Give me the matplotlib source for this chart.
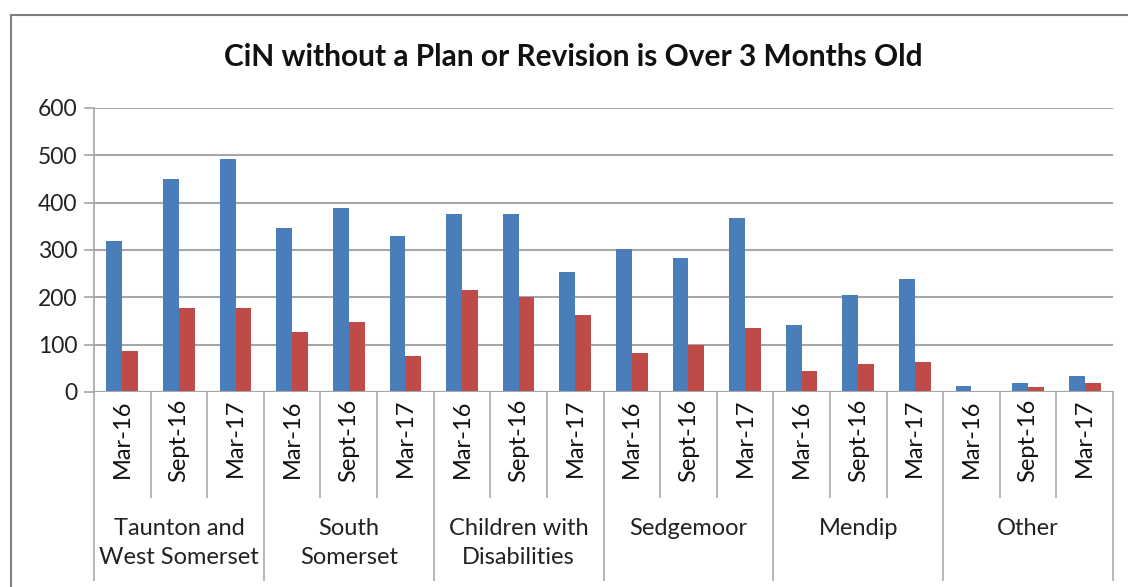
import matplotlib.pyplot as plt
from matplotlib.lines import Line2D

# data
groups = ["Taunton and\nWest Somerset", "South\nSomerset", "Children with\nDisabilities",
          "Sedgemoor", "Mendip", "Other"]
periods = ["Mar-16", "Sept-16", "Mar-17"]
blue_vals = [320, 449, 492, 346, 389, 329, 375, 375, 253,
             302, 283, 367, 142, 204, 239, 12, 20, 33]
red_vals = [87, 177, 177, 126, 148, 77, 215, 201, 163,
            82, 100, 136, 44, 60, 63, 3, 10, 20]

plt.rcParams['font.family'] = ['Lato', 'DejaVu Sans']

W, H = 1128, 587
fig = plt.figure(figsize=(W / 100, H / 100), dpi=100)

def px(x0, y0, x1, y1):
    return [x0 / W, 1 - y1 / H, (x1 - x0) / W, (y1 - y0) / H]

ax = fig.add_axes(px(94, 108, 1113, 392))

n = len(blue_vals)
xs = [i + 0.5 for i in range(n)]
bw = 0.28
ax.bar([x - bw / 2 for x in xs], blue_vals, width=bw, color='#4a7ebb', zorder=3)
ax.bar([x + bw / 2 for x in xs], red_vals, width=bw, color='#be4b48', zorder=3)

ax.set_xlim(0, n)
ax.set_ylim(0, 600)
ax.set_yticks(range(0, 601, 100))
ax.yaxis.grid(True, color='#a6a6a6', linewidth=1.5, zorder=0)
ax.tick_params(axis='y', length=7, color='#a6a6a6', width=1.2, labelsize=16.5,
               labelcolor='#222222', pad=5)
ax.set_xticks([])
for s in ['top', 'right', 'bottom']:
    ax.spines[s].set_visible(False)
ax.spines['left'].set_color('#a6a6a6')
ax.spines['left'].set_linewidth(1.2)
ax.axhline(0, color='#a6a6a6', linewidth=1.5, zorder=4)

# multi level category axis
tr = ax.get_xaxis_transform()
axh = 392 - 108
short_bot = -(497 - 392) / axh
long_bot = -(580 - 392) / axh
for i in range(n + 1):
    bot = long_bot if i % 3 == 0 else short_bot
    ax.add_line(Line2D([i, i], [0, bot], transform=tr, color='#b0b0b0',
                       linewidth=1.3, clip_on=False))
for i, x in enumerate(xs):
    ax.text(x, -(399 - 392) / axh, periods[i % 3], transform=tr, rotation=90,
            ha='center', va='top', fontsize=17, color='#111111')
for g, name in enumerate(groups):
    ax.text(3 * g + 1.5, -(518 - 392) / axh, name, transform=tr, ha='center',
            va='top', fontsize=17, color='#222222', linespacing=1.5)

fig.text(573 / W, 1 - 57 / H, "CiN without a Plan or Revision is Over 3 Months Old",
         ha='center', va='center', fontsize=21.5, fontweight='bold', color='#111111')

# outer chart border (only top and left visible)
fig.add_artist(Line2D([11 / W, 1], [1 - 15 / H, 1 - 15 / H], color='#808080', linewidth=1.5))
fig.add_artist(Line2D([11 / W, 11 / W], [0, 1 - 15 / H], color='#808080', linewidth=1.5))

fig.savefig("out.png", dpi=100)
